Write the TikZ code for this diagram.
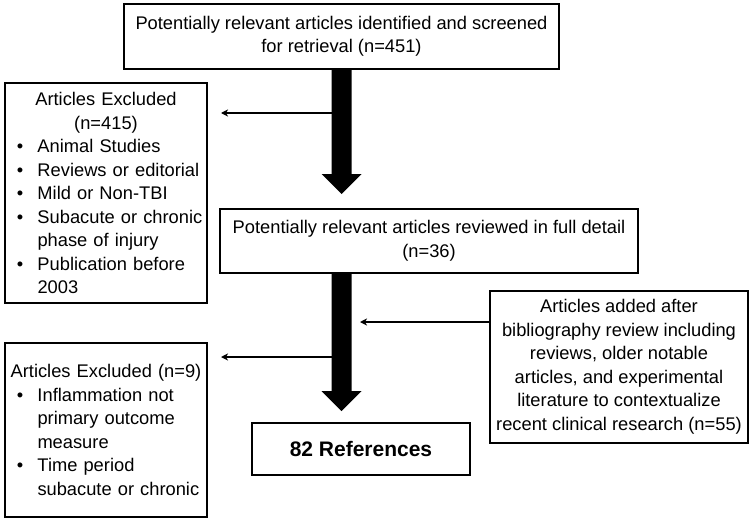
\documentclass[tikz,border=0pt]{standalone}
\usepackage{fontspec}
\setmainfont{Liberation Sans}
\usetikzlibrary{arrows.meta,calc}
\setlength{\parindent}{0pt}

%Aufzaehlungspunkt mit haengendem Einzug
\newcommand{\bitem}[1]{\par\hangindent=28.5pt\hangafter=1\noindent\makebox[28.5pt][l]{\hspace{8pt}\textbullet}#1}

%dicker Pfeil: von (#1) bis Spitze (#2)
\newcommand{\fatarrow}[2]{%
\fill ($(#1)+(-10,0)$) -- ($(#2)+(-10,-20)$) -- ($(#2)+(-20,-20)$) -- (#2) -- ($(#2)+(20,-20)$) -- ($(#2)+(10,-20)$) -- ($(#1)+(10,0)$) -- cycle;}

\begin{document}
\begin{tikzpicture}[x=1pt, y=-1pt,
  box/.style={draw, line width=2pt, inner sep=0pt, align=center, font=\fontsize{18.3}{23.5}\selectfont},
  listbox/.style={box, align=left, text width=194pt, inner xsep=4pt},
  thinarrow/.style={line width=1.6pt, -{Stealth[length=7pt, width=7pt, inset=2pt]}}]

\useasboundingbox (0,0) rectangle (750,522);

%Kaesten
\node[box, minimum width=435, minimum height=65] (screened) at (341.5,36.5) {Potentially relevant articles identified and screened\\for retrieval (n=451)};
\node[box, minimum width=418, minimum height=64] (reviewed) at (429,241) {Potentially relevant articles reviewed in full detail\\(n=36)};
\node[box, minimum width=218, minimum height=52, font=\fontsize{21}{25}\selectfont\bfseries] (refs) at (361,449) {82 References};
\node[box, minimum width=258, minimum height=152] (added) at (619,367) {Articles added after\\bibliography review including\\reviews, older notable\\articles, and experimental\\literature to contextualize\\recent clinical research (n=55)};

%Ausgeschlossen
\node[listbox, minimum height=220] (exclA) at (106,193) {{\centering Articles Excluded\\(n=415)\par}
\bitem{Animal Studies}
\bitem{Reviews or editorial}
\bitem{Mild or Non-TBI}
\bitem{Subacute or chronic\newline phase of injury}
\bitem{Publication before\newline 2003}\par};
\node[listbox, minimum height=174] (exclB) at (106,430) {{\centering Articles Excluded (n=9)\par}
\bitem{Inflammation not\newline primary outcome\newline measure}
\bitem{Time period\newline subacute or chronic}\par};

%dicke Pfeile
\coordinate (tipA) at ($(screened.south |- reviewed.north)+(0,-14)$);
\coordinate (tipB) at ($(screened.south |- refs.north)+(0,-11)$);
\coordinate (startB) at (screened.south |- reviewed.south);
\fatarrow{screened.south}{tipA}
\fatarrow{startB}{tipB}

%duenne Pfeile
\coordinate (jA) at (332,113);
\coordinate (jB) at (360,322);
\coordinate (jC) at (332,357);
\draw[thinarrow, shorten >=13pt] (jA) -- (jA -| exclA.east);
\draw[thinarrow] (added.west |- jB) -- (jB);
\draw[thinarrow, shorten >=13pt] (jC) -- (jC -| exclB.east);

\end{tikzpicture}
\end{document}
